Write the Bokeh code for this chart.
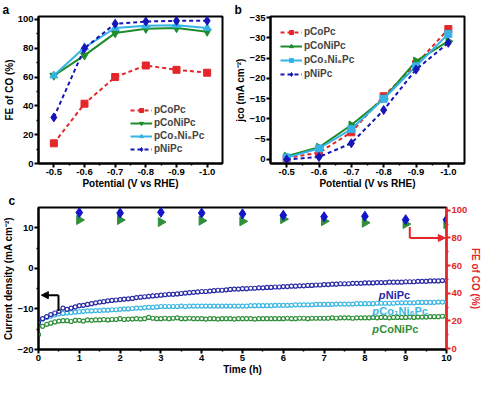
import numpy as np
from bokeh.plotting import figure
from bokeh.models import (Range1d, LinearAxis, FixedTicker, Legend, LegendItem,
                          Label, Arrow, NormalHead, PrintfTickFormatter)
from bokeh.layouts import column, row
from bokeh.embed import file_html
from bokeh.resources import INLINE

# ---------------- data ----------------
potential = [-0.5, -0.6, -0.7, -0.8, -0.9, -1.0]
fe_copc = [14, 41.5, 60, 68, 65, 63]
fe_conipc = [61, 75, 90.5, 93.5, 94, 91.5]
fe_co1ni6pc = [61, 80.5, 94, 95.5, 96, 94]
fe_nipc = [32, 80, 97, 98.5, 99, 99]

j_copc = [-0.3, -1.7, -6.7, -15.6, -23.5, -32.2]
j_conipc = [-0.8, -3.0, -8.5, -15.0, -24.3, -29.2]
j_co1ni6pc = [-0.5, -2.7, -7.5, -15.0, -23.0, -31.0]
j_nipc = [0.0, -0.6, -4.0, -12.2, -22.2, -28.8]

time_h = [0.0, 0.1, 0.2, 0.3, 0.4, 0.5, 0.6, 0.7, 0.8, 0.9,
          1.0, 1.1, 1.2, 1.3, 1.4, 1.5, 1.6, 1.7, 1.8, 1.9,
          2.0, 2.1, 2.2, 2.3, 2.4, 2.5, 2.6, 2.7, 2.8, 2.9,
          3.0, 3.1, 3.2, 3.3, 3.4, 3.5, 3.6, 3.7, 3.8, 3.9,
          4.0, 4.1, 4.2, 4.3, 4.4, 4.5, 4.6, 4.7, 4.8, 4.9,
          5.0, 5.1, 5.2, 5.3, 5.4, 5.5, 5.6, 5.7, 5.8, 5.9,
          6.0, 6.1, 6.2, 6.3, 6.4, 6.5, 6.6, 6.7, 6.8, 6.9,
          7.0, 7.1, 7.2, 7.3, 7.4, 7.5, 7.6, 7.7, 7.8, 7.9,
          8.0, 8.1, 8.2, 8.3, 8.4, 8.5, 8.6, 8.7, 8.8, 8.9,
          9.0, 9.1, 9.2, 9.3, 9.4, 9.5, 9.6, 9.7, 9.8, 9.9, 10.0]

cd_nipc = [-13.4, -12.4, -11.9, -11.4, -11.0, -10.6, -9.8, -10.1, -9.8, -9.5,
           -9.2, -9.1, -8.9, -8.7, -8.5, -8.3, -8.2, -8.0, -7.9, -7.8,
           -7.7, -7.6, -7.5, -7.4, -7.2, -7.1, -7.0, -6.9, -6.8, -6.7,
           -6.6, -6.5, -6.4, -6.4, -6.3, -6.2, -6.1, -6.0, -5.9, -5.8,
           -5.7, -5.7, -5.6, -5.5, -5.4, -5.4, -5.3, -5.2, -5.1, -5.1,
           -5.0, -5.0, -4.9, -4.9, -4.8, -4.8, -4.7, -4.7, -4.6, -4.6,
           -4.5, -4.5, -4.4, -4.4, -4.3, -4.3, -4.2, -4.2, -4.1, -4.1,
           -4.0, -4.0, -3.9, -3.9, -3.8, -3.8, -3.8, -3.7, -3.7, -3.7,
           -3.6, -3.6, -3.6, -3.5, -3.5, -3.5, -3.4, -3.4, -3.4, -3.4,
           -3.3, -3.3, -3.3, -3.2, -3.2, -3.2, -3.1, -3.1, -3.1, -3.0, -3.0]

cd_co1ni6pc = [-13.2, -12.5, -12.1, -11.8, -11.5, -11.2, -11.1, -11.0, -10.9, -10.8,
               -10.7, -10.6, -10.5, -10.5, -10.4, -10.4, -10.3, -10.3, -10.2, -10.2,
               -10.1, -10.0, -10.0, -9.9, -9.8, -9.8, -9.7, -9.6, -9.6, -9.5,
               -9.4, -9.4, -9.4, -9.4, -9.4, -9.3, -9.4, -9.3, -9.3, -9.3,
               -9.3, -9.3, -9.3, -9.3, -9.3, -9.3, -9.3, -9.3, -9.3, -9.3,
               -9.3, -9.3, -9.2, -9.2, -9.2, -9.2, -9.2, -9.2, -9.1, -9.1,
               -9.1, -9.1, -9.1, -9.0, -9.0, -9.0, -9.0, -9.0, -8.9, -8.9,
               -8.9, -8.9, -8.9, -8.8, -8.8, -8.8, -8.8, -8.8, -8.7, -8.7,
               -8.7, -8.7, -8.7, -8.6, -8.6, -8.6, -8.6, -8.6, -8.5, -8.5,
               -8.5, -8.5, -8.5, -8.4, -8.4, -8.4, -8.4, -8.4, -8.3, -8.3, -8.3]

cd_conipc = [-16.3, -14.3, -13.8, -13.5, -13.2, -13.0, -12.9, -12.9, -13.1, -12.8,
             -12.8, -13.0, -12.7, -12.8, -12.7, -12.7, -12.6, -12.7, -12.6, -12.6,
             -12.4, -12.6, -12.5, -12.5, -12.4, -12.5, -12.4, -12.1, -12.3, -12.4,
             -12.4, -12.3, -12.4, -12.3, -12.2, -12.4, -12.4, -12.3, -12.4, -12.4,
             -12.4, -12.5, -12.4, -12.4, -12.5, -12.4, -12.4, -12.4, -12.5, -12.4,
             -12.4, -12.4, -12.4, -12.5, -12.4, -12.4, -12.4, -12.4, -12.4, -12.4,
             -12.4, -12.3, -12.4, -12.4, -12.3, -12.3, -12.4, -12.3, -12.3, -12.3,
             -12.3, -12.3, -12.2, -12.3, -12.2, -12.2, -12.2, -12.3, -12.2, -12.2,
             -12.2, -12.2, -12.1, -12.2, -12.1, -12.1, -12.2, -12.1, -12.1, -12.1,
             -12.1, -12.0, -12.1, -12.0, -12.0, -12.0, -11.9, -11.9, -11.9, -11.8, -11.8]

fe_time = [1, 2, 3, 4, 5, 6, 7, 8, 9, 10]
fe_t_nipc = [98.3, 98.0, 98.5, 98.0, 97.4, 96.4, 95.3, 95.7, 93.2, 93.2]
fe_t_conipc = [93.0, 93.0, 91.5, 92.5, 92.0, 93.6, 92.1, 91.0, 90.0, 90.0]

# ---------------- styles ----------------
RED = "#e4262b"
GREEN = "#1e8c2a"
CYAN = "#35b2e6"
BLUE = "#1616b8"
NAVY = "#2a2aa6"
CGREEN = "#2f8f3a"
CCYAN = "#3cb6e2"
FONT = "Liberation Sans"


def style_axis(ax, color="black"):
    ax.axis_line_width = 2
    ax.axis_line_color = color
    ax.major_tick_line_color = color
    ax.minor_tick_line_color = color
    ax.major_tick_line_width = 2
    ax.minor_tick_line_width = 1.5
    ax.major_tick_in = 0
    ax.major_tick_out = 4
    ax.minor_tick_in = 0
    ax.minor_tick_out = 2
    ax.major_label_text_font = FONT
    ax.major_label_text_font_style = "bold"
    ax.major_label_text_font_size = "9.5px"
    ax.major_label_text_color = color
    ax.major_label_standoff = 1
    ax.axis_label_text_font = FONT
    ax.axis_label_text_font_style = "bold"
    ax.axis_label_text_font_size = "10px"
    ax.axis_label_text_color = color
    ax.axis_label_standoff = 0


def base_fig(w, h, xr, yr, letter, letter_offset, **kw):
    p = figure(width=w, height=h, x_range=xr, y_range=yr, title=letter,
               output_backend="svg", toolbar_location=None, **kw)
    p.grid.visible = False
    p.outline_line_color = "black"
    p.outline_line_width = 2
    p.outline_line_alpha = 1
    p.background_fill_color = "white"
    p.title.align = "left"
    p.title.offset = letter_offset
    p.title.standoff = 0
    p.title.text_font = FONT
    p.title.text_font_style = "bold"
    p.title.text_font_size = "12px"
    p.title.text_color = "black"
    for ax in p.axis:
        style_axis(ax)
    return p


pot_ticks = FixedTicker(ticks=[-0.5, -0.6, -0.7, -0.8, -0.9, -1.0],
                        minor_ticks=[-0.55, -0.65, -0.75, -0.85, -0.95])
pot_fmt = PrintfTickFormatter(format="%.1f")

# ---------------- panel a ----------------
pa = base_fig(232, 191, Range1d(-0.45, -1.05), Range1d(0, 102), "a", -36,
              min_border_left=5, min_border_right=10, min_border_top=0,
              min_border_bottom=0)
pa.xaxis.ticker = pot_ticks
pa.xaxis.formatter = pot_fmt
pa.yaxis.ticker = FixedTicker(ticks=[0, 20, 40, 60, 80, 100],
                              minor_ticks=[10, 30, 50, 70, 90])
pa.xaxis.axis_label = "Potential (V vs RHE)"
pa.yaxis.axis_label = "FE of CO (%)"

la1 = pa.line(potential, fe_copc, line_color=RED, line_width=2, line_dash="4 3")
ma1 = pa.scatter(potential, fe_copc, marker="square", size=7, color=RED)
la2 = pa.line(potential, fe_conipc, line_color=GREEN, line_width=2)
ma2 = pa.scatter(potential, fe_conipc, marker="inverted_triangle", size=8, color=GREEN)
la3 = pa.line(potential, fe_co1ni6pc, line_color=CYAN, line_width=2)
ma3 = pa.scatter(potential, fe_co1ni6pc, marker="triangle", size=8, color=CYAN)
la4 = pa.line(potential, fe_nipc, line_color=BLUE, line_width=2, line_dash="4 3")
ma4 = pa.scatter(potential, fe_nipc, marker="diamond", size=9, color=BLUE)


def style_legend(lg):
    lg.label_text_font = FONT
    lg.label_text_font_style = "bold"
    lg.label_text_font_size = "10px"
    lg.glyph_width = 22
    lg.glyph_height = 10
    lg.label_height = 10
    lg.label_standoff = 2
    lg.spacing = 2
    lg.padding = 0
    lg.margin = 0
    lg.border_line_color = None
    lg.background_fill_alpha = 0


leg_a = Legend(items=[LegendItem(label="pCoPc", renderers=[la1, ma1]),
                      LegendItem(label="pCoNiPc", renderers=[la2, ma2]),
                      LegendItem(label="pCo\u2081Ni\u2086Pc", renderers=[la3, ma3]),
                      LegendItem(label="pNiPc", renderers=[la4, ma4])],
               location=(92, 9))
style_legend(leg_a)
pa.add_layout(leg_a)

# ---------------- panel b ----------------
pb = base_fig(252, 191, Range1d(-0.45, -1.05), Range1d(1, -35.3), "b", -36,
              min_border_left=5, min_border_right=20, min_border_top=0,
              min_border_bottom=0)
pb.xaxis.ticker = pot_ticks
pb.xaxis.formatter = pot_fmt
pb.yaxis.ticker = FixedTicker(ticks=[0, -5, -10, -15, -20, -25, -30, -35])
pb.xaxis.axis_label = "Potential (V vs RHE)"
pb.yaxis.axis_label = "jco (mA cm\u207b\u00b2)"

lb1 = pb.line(potential, j_copc, line_color=RED, line_width=2, line_dash="4 3")
mb1 = pb.scatter(potential, j_copc, marker="square", size=7, color=RED)
lb2 = pb.line(potential, j_conipc, line_color=GREEN, line_width=2)
mb2 = pb.scatter(potential, j_conipc, marker="triangle", angle=-np.pi / 2, size=8, color=GREEN)
lb3 = pb.line(potential, j_co1ni6pc, line_color=CYAN, line_width=2)
mb3 = pb.scatter(potential, j_co1ni6pc, marker="square", size=7, color=CYAN)
lb4 = pb.line(potential, j_nipc, line_color=BLUE, line_width=2, line_dash="4 3")
mb4 = pb.scatter(potential, j_nipc, marker="diamond", size=9, color=BLUE)

leg_b = Legend(items=[LegendItem(label="pCoPc", renderers=[lb1, mb1]),
                      LegendItem(label="pCoNiPc", renderers=[lb2, mb2]),
                      LegendItem(label="pCo\u2081Ni\u2086Pc", renderers=[lb3, mb3]),
                      LegendItem(label="pNiPc", renderers=[lb4, mb4])],
               location="top_left")
style_legend(leg_b)
leg_b.spacing = 3
leg_b.margin = 10
pb.add_layout(leg_b)

# ---------------- panel c ----------------
pc = base_fig(484, 186, Range1d(0, 10), Range1d(-20, 15), "c", -30,
              min_border_left=0, min_border_right=0, min_border_top=0,
              min_border_bottom=0)
pc.extra_y_ranges = {"fe": Range1d(-0.6, 102)}
pc.xaxis.ticker = FixedTicker(ticks=list(range(0, 11)),
                              minor_ticks=[0.5, 1.5, 2.5, 3.5, 4.5, 5.5, 6.5, 7.5, 8.5, 9.5])
pc.yaxis.ticker = FixedTicker(ticks=[-20, -10, 0, 10], minor_ticks=[-15, -5, 5])
pc.xaxis.axis_label = "Time (h)"
pc.yaxis.axis_label = "Current density (mA cm\u207b\u00b2)"

rax = LinearAxis(y_range_name="fe", axis_label="FE of CO (%)",
                 ticker=FixedTicker(ticks=[0, 20, 40, 60, 80, 100],
                                    minor_ticks=[10, 30, 50, 70, 90]))
style_axis(rax, RED)
pc.add_layout(rax, "right")

pc.scatter(time_h, cd_conipc, marker="circle", size=4, fill_color="white",
           line_color=CGREEN, line_width=1.2)
pc.scatter(time_h, cd_co1ni6pc, marker="circle", size=4, fill_color="white",
           line_color=CCYAN, line_width=1.2)
pc.scatter(time_h, cd_nipc, marker="circle", size=4, fill_color="white",
           line_color=NAVY, line_width=1.2)

pc.scatter(fe_time, fe_t_conipc, y_range_name="fe", marker="triangle",
           angle=-np.pi / 2, size=9, color=CGREEN)
pc.scatter(fe_time, fe_t_nipc, y_range_name="fe", marker="diamond", size=10, color="#1414c8")

# arrows
arrow_left_x = [0.49, 0.49]
arrow_left_y = [-10.5, -6.6]
pc.line(arrow_left_x, arrow_left_y, line_color="black", line_width=2)
pc.add_layout(Arrow(x_start=0.49, y_start=-6.6, x_end=0.07, y_end=-6.6,
                    line_color="black", line_width=2,
                    end=NormalHead(size=7, fill_color="black", line_color="black")))
arrow_right_x = [9.1, 9.1]
arrow_right_y = [88, 80]
pc.line(arrow_right_x, arrow_right_y, y_range_name="fe", line_color=RED, line_width=2)
pc.add_layout(Arrow(x_start=9.1, y_start=80, x_end=9.97, y_end=80, y_range_name="fe",
                    line_color=RED, line_width=2,
                    end=NormalHead(size=7, fill_color=RED, line_color=RED)))


def series_label(x, y, rest, color):
    pc.add_layout(Label(x=x, y=y, text="p", text_color=color, text_font=FONT,
                        text_font_style="bold italic", text_font_size="11px",
                        text_baseline="middle"))
    pc.add_layout(Label(x=x, y=y, x_offset=7, text=rest, text_color=color, text_font=FONT,
                        text_font_style="bold", text_font_size="11px",
                        text_baseline="middle"))


series_label(8.34, -6.6, "NiPc", NAVY)
series_label(8.18, -10.6, "Co\u2081Ni\u2086Pc", CCYAN)
series_label(8.18, -15.0, "CoNiPc", CGREEN)

layout = column(row(pa, pb), pc)
open("out.html", "w").write(file_html(layout, INLINE))
